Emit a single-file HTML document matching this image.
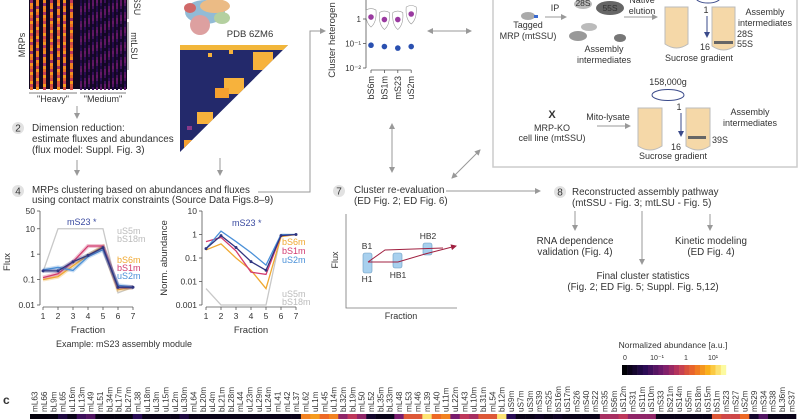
<!DOCTYPE html>
<html><head><meta charset="utf-8"><style>
html,body{margin:0;padding:0;background:#fff}
svg{display:block;font-family:"Liberation Sans",sans-serif}
text{fill:#333}
</style></head><body>
<svg id="fig" width="800" height="419" viewBox="0 0 800 419" xmlns="http://www.w3.org/2000/svg">
<defs>
<marker id="ah" markerWidth="6" markerHeight="6" refX="5" refY="3" orient="auto"><path d="M0,0 L6,3 L0,6 z" fill="#999"/></marker>
<marker id="ahs" markerWidth="6" markerHeight="6" refX="1" refY="3" orient="auto"><path d="M6,0 L0,3 L6,6 z" fill="#999"/></marker>
<marker id="ahn" markerWidth="6" markerHeight="6" refX="5" refY="3" orient="auto"><path d="M0,0 L6,3 L0,6 z" fill="#3a4a8a"/></marker>
<marker id="ahr" markerWidth="6" markerHeight="6" refX="5" refY="3" orient="auto"><path d="M0,0 L6,3 L0,6 z" fill="#a02040"/></marker>
<clipPath id="tri"><polygon points="180,45 288,45 180,152"/></clipPath>
</defs>

<!-- top-left heatmap -->
<g id="mrpHeat"></g>
<text transform="translate(25,45) rotate(-90)" font-size="9" text-anchor="middle">MRPs</text>
<line x1="128" y1="0" x2="128" y2="19" stroke="#555" stroke-width="0.8"/>
<line x1="128" y1="22" x2="128" y2="70" stroke="#555" stroke-width="0.8"/>
<text transform="translate(134,6) rotate(90)" font-size="9" text-anchor="middle">SSU</text>
<text transform="translate(131,46) rotate(90)" font-size="9" text-anchor="middle">mtLSU</text>
<line x1="29" y1="93" x2="77" y2="93" stroke="#555" stroke-width="0.8"/>
<line x1="80" y1="93" x2="126" y2="93" stroke="#555" stroke-width="0.8"/>
<text x="53" y="102" font-size="9" text-anchor="middle">"Heavy"</text>
<text x="103" y="102" font-size="9" text-anchor="middle">"Medium"</text>
<line x1="77" y1="106" x2="77" y2="118" stroke="#999" marker-end="url(#ah)"/>

<!-- step 2 -->
<circle cx="18" cy="128" r="6" fill="#e2e2e2"/>
<text x="18" y="131.5" font-size="10" text-anchor="middle">2</text>
<text font-size="9.9"><tspan x="32" y="131">Dimension reduction:</tspan><tspan x="32" y="142">estimate fluxes and abundances</tspan><tspan x="32" y="153">(flux model: Suppl. Fig. 3)</tspan></text>
<line x1="77" y1="160" x2="77" y2="175" stroke="#999" marker-end="url(#ah)"/>

<!-- structure + contact matrix -->
<g opacity="0.85">
<ellipse cx="205" cy="12" rx="20" ry="12" fill="#7fb0d0"/>
<ellipse cx="215" cy="6" rx="15" ry="7" fill="#e8b070"/>
<ellipse cx="200" cy="25" rx="10" ry="10" fill="#d89090"/>
<ellipse cx="222" cy="18" rx="8" ry="6" fill="#a8c890"/>
<ellipse cx="190" cy="8" rx="6" ry="5" fill="#c85050"/>
</g>
<text x="250" y="37" font-size="9.5" text-anchor="middle">PDB 6ZM6</text>
<g id="contact" clip-path="url(#tri)">
<rect x="180" y="45" width="108" height="107" fill="#23296b"/>
<rect x="180" y="45" width="108" height="5" fill="#f2b63a"/>
<rect x="253" y="52" width="20" height="18" fill="#f7b23c"/>
<rect x="224" y="78" width="20" height="16" fill="#f7b23c"/>
<rect x="215" y="88" width="14" height="10" fill="#f5a030"/>
<rect x="197" y="112" width="16" height="12" fill="#f7b23c"/>
<rect x="184" y="140" width="8" height="8" fill="#f5a030"/>
<rect x="187" y="126" width="5" height="4" fill="#8a3a8a"/>
<rect x="229" y="50" width="4" height="4" fill="#f7b23c"/>
<rect x="208" y="53" width="4" height="4" fill="#f7b23c"/>
</g>
<line x1="220" y1="158" x2="220" y2="175" stroke="#999" marker-end="url(#ah)"/>

<!-- step 4 -->
<circle cx="18" cy="191" r="6" fill="#e2e2e2"/>
<text x="18" y="194.5" font-size="10" text-anchor="middle">4</text>
<text font-size="9.8"><tspan x="32" y="193">MRPs clustering based on abundances and fluxes</tspan><tspan x="32" y="203">using contact matrix constraints (Source Data Figs.8–9)</tspan></text>
<polyline points="258,192 310,192 310,31 325,31" fill="none" stroke="#999" marker-end="url(#ah)"/>

<!-- flux chart -->
<g id="fluxChart"></g>
<g id="abChart"></g>
<text transform="translate(10,262) rotate(-90)" font-size="9.5" text-anchor="middle">Flux</text>
<text transform="translate(167,258) rotate(-90)" font-size="9.5" text-anchor="middle">Norm. abundance</text>
<text x="88" y="333" font-size="9.5" text-anchor="middle">Fraction</text>
<text x="251" y="333" font-size="9.5" text-anchor="middle">Fraction</text>
<text x="124" y="347" font-size="9" text-anchor="middle">Example: mS23 assembly module</text>

<!-- cluster heterogeneity chart -->
<g id="hetChart"></g>
<text transform="translate(335,40) rotate(-90)" font-size="9.5" text-anchor="middle">Cluster heterogen</text>
<line x1="428" y1="31" x2="471" y2="31" stroke="#999" marker-start="url(#ahs)" marker-end="url(#ah)"/>
<line x1="392" y1="124" x2="392" y2="172" stroke="#999" marker-start="url(#ahs)" marker-end="url(#ah)"/>
<line x1="452" y1="178" x2="480" y2="150" stroke="#999" marker-start="url(#ahs)" marker-end="url(#ah)"/>

<!-- experiment box -->
<rect x="493" y="-3" width="304" height="170" fill="none" stroke="#ccc" stroke-width="1.5"/>
<g font-size="9">
<ellipse cx="528" cy="16" rx="7" ry="4" fill="#aaa"/><rect x="534" y="15" width="4" height="3" fill="#3a6ad0"/>
<text x="528" y="28" text-anchor="middle">Tagged</text><text x="528" y="39" text-anchor="middle">MRP (mtSSU)</text>
<text x="555" y="11" text-anchor="middle">IP</text>
<line x1="545" y1="17" x2="566" y2="17" stroke="#999" marker-end="url(#ah)"/>
<ellipse cx="583" cy="4" rx="9" ry="5" fill="#bbb"/><text x="583" y="6" text-anchor="middle" font-size="8.5">28S</text>
<ellipse cx="610" cy="8" rx="14" ry="7" fill="#666"/><text x="610" y="11" text-anchor="middle" font-size="8.5">55S</text>
<ellipse cx="589" cy="27" rx="8" ry="4" fill="#bbb"/><ellipse cx="578" cy="36" rx="9" ry="5" fill="#999"/><ellipse cx="620" cy="38" rx="6" ry="4" fill="#777"/>
<text x="604" y="52" text-anchor="middle">Assembly</text><text x="604" y="63" text-anchor="middle">intermediates</text>
<text x="642" y="3" text-anchor="middle">Native</text><text x="642" y="14" text-anchor="middle">elution</text>
<line x1="624" y1="17" x2="657" y2="17" stroke="#999" marker-end="url(#ah)"/>
<path d="M665,7 L688,7 L688,44 Q676.5,52 665,44 Z" fill="#f5d8a8" stroke="#bbb"/>
<ellipse cx="708" cy="-2" rx="12" ry="5" fill="none" stroke="#3a4a8a"/>
<text x="706" y="13" text-anchor="middle">1</text>
<line x1="707" y1="16" x2="707" y2="37" stroke="#3a4a8a" marker-end="url(#ahn)"/>
<text x="705" y="50" text-anchor="middle">16</text>
<path d="M712,7 L735,7 L735,46 Q723.5,54 712,46 Z" fill="#f5d8a8" stroke="#bbb"/>
<rect x="714" y="41" width="19" height="3" fill="#666"/>
<text x="765" y="15" text-anchor="middle">Assembly</text><text x="765" y="26" text-anchor="middle">intermediates</text>
<text x="737" y="37">28S</text><text x="737" y="47">55S</text>
<text x="699" y="61" text-anchor="middle">Sucrose gradient</text>
</g>
<g font-size="9">
<text x="668" y="85" text-anchor="middle">158,000g</text>
<ellipse cx="668" cy="95" rx="16" ry="5.5" fill="none" stroke="#3a4a8a"/>
<text x="552" y="118" text-anchor="middle" font-size="11" font-weight="bold">X</text>
<text x="552" y="131" text-anchor="middle">MRP-KO</text><text x="552" y="141" text-anchor="middle">cell line (mtSSU)</text>
<text x="608" y="120" text-anchor="middle">Mito-lysate</text>
<line x1="597" y1="126" x2="630" y2="126" stroke="#999" marker-end="url(#ah)"/>
<path d="M638,108 L662,108 L662,146 Q650,154 638,146 Z" fill="#f5d8a8" stroke="#bbb"/>
<text x="679" y="110" text-anchor="middle">1</text>
<line x1="681" y1="113" x2="681" y2="136" stroke="#3a4a8a" marker-end="url(#ahn)"/>
<text x="676" y="150" text-anchor="middle">16</text>
<path d="M686,108 L710,108 L710,146 Q698,154 686,146 Z" fill="#f5d8a8" stroke="#bbb"/>
<rect x="688" y="136" width="18" height="3" fill="#666"/>
<text x="750" y="115" text-anchor="middle">Assembly</text><text x="750" y="126" text-anchor="middle">intermediates</text>
<text x="712" y="143">39S</text>
<text x="673" y="159" text-anchor="middle">Sucrose gradient</text>
</g>

<!-- step 7 -->
<circle cx="339" cy="191" r="6" fill="#e2e2e2"/>
<text x="339" y="194.5" font-size="10" text-anchor="middle">7</text>
<text font-size="9.8"><tspan x="354" y="193">Cluster re-evaluation</tspan><tspan x="354" y="204">(ED Fig. 2; ED Fig. 6)</tspan></text>
<line x1="446" y1="191" x2="540" y2="191" stroke="#999" marker-end="url(#ah)"/>
<g font-size="8.5">
<polyline points="346,214 346,308 457,308" fill="none" stroke="#777" stroke-width="0.8"/>
<text transform="translate(338,260) rotate(-90)" text-anchor="middle" font-size="9">Flux</text>
<text x="401" y="319" text-anchor="middle" font-size="9">Fraction</text>
<rect x="363" y="253" width="9" height="20" rx="2" fill="#a8d0ee" stroke="#6a9ac0" stroke-width="0.6"/>
<rect x="393" y="253" width="9" height="15" rx="2" fill="#a8d0ee" stroke="#6a9ac0" stroke-width="0.6"/>
<rect x="423" y="243" width="9" height="12" rx="2" fill="#a8d0ee" stroke="#6a9ac0" stroke-width="0.6"/>
<polyline points="368,262 385,250 443,248" fill="none" stroke="#a02040"/>
<polyline points="368,262 398,262 425,254 456,246" fill="none" stroke="#a02040" marker-end="url(#ahr)"/>
<text x="367" y="249" text-anchor="middle">B1</text><text x="367" y="282" text-anchor="middle">H1</text>
<text x="398" y="278" text-anchor="middle">HB1</text><text x="428" y="239" text-anchor="middle">HB2</text>
</g>

<!-- step 8 -->
<circle cx="560" cy="192" r="6" fill="#e2e2e2"/>
<text x="560" y="195.5" font-size="10" text-anchor="middle">8</text>
<text font-size="9.8"><tspan x="572" y="195">Reconstructed assembly pathway</tspan><tspan x="572" y="206">(mtSSU - Fig. 3; mtLSU - Fig. 5)</tspan></text>
<line x1="575" y1="211" x2="575" y2="230" stroke="#999" marker-end="url(#ah)"/>
<line x1="642" y1="211" x2="642" y2="264" stroke="#999" marker-end="url(#ah)"/>
<line x1="710" y1="214" x2="710" y2="230" stroke="#999" marker-end="url(#ah)"/>
<text font-size="9.8" text-anchor="middle"><tspan x="575" y="244">RNA dependence</tspan><tspan x="575" y="255">validation (Fig. 4)</tspan></text>
<text font-size="9.8" text-anchor="middle"><tspan x="711" y="244">Kinetic modeling</tspan><tspan x="711" y="255">(ED Fig. 4)</tspan></text>
<text font-size="9.8" text-anchor="middle"><tspan x="643" y="279">Final cluster statistics</tspan><tspan x="643" y="290">(Fig. 2; ED Fig. 5; Suppl. Fig. 5,12)</tspan></text>

<!-- panel c -->
<text x="3" y="404" font-size="12" font-weight="bold">c</text>
<text x="673" y="348" font-size="8.5" text-anchor="middle">Normalized abundance [a.u.]</text>
<g id="cbar"></g>
<g id="stripLabels"></g>
<g id="strip"></g>
</svg>
<script>
// ---------- data ----------
const fractions = [1,2,3,4,5,6,7];
const fluxMS23 = [0.22,0.22,0.5,0.9,1.8,0.05,0.05];
const fluxBS6m = [0.1,0.13,0.35,0.9,2.0,0.04,0.05];
const fluxBS1m = [0.12,0.17,0.5,2.1,2.1,0.05,0.05];
const fluxUS2m = [0.24,0.3,0.23,0.8,1.5,0.06,0.05];
const fluxUS5m = [0.2,10,10,10,10,0.03,0.05];
const fluxTicks = [50,10,1,0.1,0.01];
const fluxTickLabels = ["50","10","1","0.1","0.01"];
const abMS23 = [0.25,0.9,0.28,0.07,0.03,0.9,1.0];
const abBS6m = [0.22,0.4,0.1,0.03,0.005,0.8,1.0];
const abBS1m = [0.5,0.75,0.2,0.025,0.02,0.9,1.0];
const abUS2m = [0.25,1.4,0.5,0.17,0.05,1.0,1.0];
const abUS5m = [0.005,0.001,0.001,0.001,0.001,1.0,1.0];
const abTicks = [10,1,0.1,0.01,0.001];
const abTickLabels = ["10","1","0.1","0.01","0.001"];
const hetProteins = ["bS6m","bS1m","mS23","uS2m"];
const hetHigh = [1.2,0.95,0.95,1.6];
const hetLow = [0.085,0.075,0.065,0.075];
const stripNames = ["mL63","mL66","bL9m","mL65","uL16m","uL13m","mL49","mL51","bL34m","bL17m","bL27m","mL38","uL18m","uL3m","uL15m","uL2m","uL30m","mL64","bL20m","uL4m","bL21m","bL28m","mL44","uL23m","uL29m","uL24m","mL41","mL42","mL37","mL62","uL1m","mL45","uL14m","bL32m","bL19m","mL50","mL52","bL35m","bL33m","mL48","mL53","mL46","mL39","mL40","uL11m","uL22m","mL43","uL10m","bL31m","mL54","bL12m","uS9m","uS7m","uS3m","mS39","mS25","bS16m","uS17m","mS26","mS40","mS22","mS35","bS6m","uS12m","mS31","uS11m","uS10m","mS33","bS21m","uS14m","uS5m","bS18m","uS15m","bS1m","mS23","mS27","uS2m","mS29","mS34","mS38","bL36m","mS37"];
const stripValues = [0.02,0.02,0.03,0.15,0.05,0.25,0.3,0.04,0.03,0.03,0.03,0.2,0.05,0.05,0.05,0.05,0.15,0.05,0.05,0.05,0.05,0.05,0.05,0.05,0.05,0.05,0.05,0.05,0.05,0.75,0.8,0.7,0.75,0.45,0.55,0.45,0.1,0.05,0.05,0.4,0.65,0.65,0.95,0.7,0.75,0.4,0.55,0.5,0.65,0.65,0.95,0.2,0.05,0.05,0.08,0.05,0.08,0.05,0.05,0.05,0.05,0.5,0.5,0.55,0.45,0.45,0.45,0.05,0.05,0.05,0.05,0.05,0.05,0.65,0.6,0.6,0.7,0.1,0.3,0.05,0.05,0.05];

// ---------- helpers ----------
const NS="http://www.w3.org/2000/svg";
function mk(tag,attrs,parent){const e=document.createElementNS(NS,tag);for(const k in attrs)e.setAttribute(k,attrs[k]);parent.appendChild(e);return e;}
const stops=[[0,0,0,4],[0.2,40,11,84],[0.4,120,28,109],[0.55,190,55,90],[0.7,237,105,37],[0.85,251,180,26],[1,252,250,160]];
function cmap(v){v=Math.max(0,Math.min(1,v));for(let i=1;i<stops.length;i++){if(v<=stops[i][0]){const a=stops[i-1],b=stops[i],t=(v-a[0])/(b[0]-a[0]);return `rgb(${[1,2,3].map(j=>Math.round(a[j]+(b[j]-a[j])*t)).join(',')})`;}}return "rgb(252,250,160)";}

// ---------- log line chart ----------
function logChart(g,cfg){
  const X=f=>cfg.x0+(f-1)*cfg.dx;
  const Y=v=>cfg.yTop+(Math.log10(cfg.vmax)-Math.log10(v))/(Math.log10(cfg.vmax)-Math.log10(cfg.vmin))*(cfg.yBot-cfg.yTop);
  const ax=mk('line',{x1:cfg.axX,y1:Y(cfg.vmax),x2:cfg.axX,y2:Y(cfg.vmin),stroke:'#555','stroke-width':0.8},g);
  
  
  cfg.ticks.forEach((t,i)=>{
    mk('line',{x1:cfg.axX-3,y1:Y(t),x2:cfg.axX,y2:Y(t),stroke:'#555','stroke-width':0.8},g);
    const tx=mk('text',{x:cfg.axX-5,y:Y(t)+3,'font-size':8.5,'text-anchor':'end'},g);tx.textContent=cfg.tickLabels[i];
    
    
  });
  fractions.forEach(f=>{
    const tx=mk('text',{x:X(f),y:cfg.yBot+14,'font-size':8.5,'text-anchor':'middle'},g);tx.textContent=f;
    
    
    mk('line',{x1:X(f),y1:cfg.yBot+2,x2:X(f),y2:cfg.yBot+5,stroke:'#555','stroke-width':0.8},g);
  });
  mk('line',{x1:X(1),y1:cfg.yBot+2,x2:X(7),y2:cfg.yBot+2,stroke:'#555','stroke-width':0.8},g);
  cfg.series.forEach(s=>{
    const pts=s.v.map((v,i)=>X(fractions[i])+','+Y(v)).join(' ');
    if(s.band){const band=mk('polyline',{points:pts,fill:'none',stroke:s.c,'stroke-width':4,opacity:0.3},g);
      
      }
    const l=mk('polyline',{points:pts,fill:'none',stroke:s.c,'stroke-width':1.3},g);
    
    
    if(s.dots) s.v.forEach((v,i)=>{const d=mk('circle',{cx:X(fractions[i]),cy:Y(v),r:1.5,fill:s.c},g);
      
      });
  });
  cfg.labels.forEach(L=>{const t=mk('text',{x:L.x,y:L.y,'font-size':9,fill:L.c},g);t.textContent=L.t;t.style.fill=L.c;
    
    });
}
const cNavy='#2f3580',cOr='#f0a830',cPk='#d23a6e',cBl='#4a90d8',cGr='#c8c8c8';
logChart(document.getElementById('fluxChart'),{x0:43,dx:15,axX:40,yTop:211,yBot:305,vmax:50,vmin:0.01,ticks:fluxTicks,tickLabels:fluxTickLabels,
 series:[{n:'us5m',v:fluxUS5m,c:cGr},{n:'bs6m',v:fluxBS6m,c:cOr,band:1},{n:'bs1m',v:fluxBS1m,c:cPk,band:1},{n:'us2m',v:fluxUS2m,c:cBl,band:1},{n:'ms23',v:fluxMS23,c:cNavy,band:1,dots:1}],
 labels:[{t:'mS23 *',x:67,y:225,c:'#3a4aa0'},{t:'uS5m',x:117,y:234,c:'#bbb'},{t:'bS18m',x:117,y:242,c:'#bbb'},{t:'bS6m',x:117,y:263,c:cOr},{t:'bS1m',x:117,y:271,c:cPk},{t:'uS2m',x:117,y:279,c:cBl}]});
logChart(document.getElementById('abChart'),{x0:206,dx:15,axX:202,yTop:211,yBot:305,vmax:10,vmin:0.001,ticks:abTicks,tickLabels:abTickLabels,
 series:[{n:'us5m',v:abUS5m,c:cGr},{n:'bs6m',v:abBS6m,c:cOr},{n:'bs1m',v:abBS1m,c:cPk},{n:'us2m',v:abUS2m,c:cBl},{n:'ms23',v:abMS23,c:cNavy,dots:1}],
 labels:[{t:'mS23 *',x:232,y:226,c:'#3a4aa0'},{t:'bS6m',x:282,y:245,c:cOr},{t:'bS1m',x:282,y:254,c:cPk},{t:'uS2m',x:282,y:263,c:cBl},{t:'uS5m',x:282,y:297,c:'#bbb'},{t:'bS18m',x:282,y:305,c:'#bbb'}]});

// heterogeneity
(function(){
  const g=document.getElementById('hetChart');
  const Y=v=>19+(0-Math.log10(v))*24.5;
  const X=i=>371+i*13.4;
  mk('line',{x1:366,y1:0,x2:366,y2:Y(0.01),stroke:'#555','stroke-width':0.8},g);
  [[1,'1'],[0.1,'10⁻¹'],[0.01,'10⁻²']].forEach(([v,l])=>{
    mk('line',{x1:363,y1:Y(v),x2:366,y2:Y(v),stroke:'#555','stroke-width':0.8},g);
    const t=mk('text',{x:361,y:Y(v)+3,'font-size':8,'text-anchor':'end'},g);t.textContent=l;
    
    
  });
  mk('line',{x1:X(0),y1:Y(0.01)+2,x2:X(3),y2:Y(0.01)+2,stroke:'#555','stroke-width':0.8},g);
  hetProteins.forEach((p,i)=>{
    mk('path',{d:`M${X(i)-5},${Y(hetHigh[i])-7} Q${X(i)},${Y(hetHigh[i])-10} ${X(i)+5},${Y(hetHigh[i])-7} Q${X(i)+6},${Y(hetHigh[i])+5} ${X(i)},${Y(hetHigh[i])+10} Q${X(i)-6},${Y(hetHigh[i])+5} ${X(i)-5},${Y(hetHigh[i])-7}`,fill:'none',stroke:'#999','stroke-width':0.6},g);
    const a=mk('circle',{cx:X(i),cy:Y(hetHigh[i]),r:2.8,fill:'#9a3aa0'},g);
    
    
    const b=mk('circle',{cx:X(i),cy:Y(hetLow[i]),r:2.8,fill:'#2a50b0'},g);
    
    
    mk('line',{x1:X(i),y1:Y(0.01)+2,x2:X(i),y2:Y(0.01)+5,stroke:'#555','stroke-width':0.8},g);
    const t=mk('text',{transform:`translate(${X(i)+3},${Y(0.01)+8}) rotate(-90)`,'font-size':9,'text-anchor':'end'},g);t.textContent=p;
    
    
  });
})();

// decorative MRP heatmap
(function(){
  const g=document.getElementById('mrpHeat');
  mk('rect',{x:29,y:0,width:98,height:89,fill:'#120820'},g);
  const cols=[30,36,43,50,57,63,70];
  cols.forEach((c,k)=>{for(let y=0;y<89;y+=3){const v=0.45+0.35*Math.abs(Math.sin(y*0.37+k));mk('rect',{x:c,y:y,width:3,height:3,fill:cmap(v)},g);}});
  for(let c=80;c<127;c+=4){for(let y=0;y<89;y+=3){const v=0.1+0.25*Math.abs(Math.sin(c*0.9+y*0.21));mk('rect',{x:c,y:y,width:2,height:3,fill:cmap(v)},g);}}
})();

// colorbar
(function(){
  const g=document.getElementById('cbar');
  for(let i=0;i<20;i++) mk('rect',{x:622+i*5.2,y:365,width:5.4,height:10,fill:cmap(i/19)},g);
  [[625,'0'],[657,'10⁻¹'],[686,'1'],[713,'10¹']].forEach(([x,l])=>{const t=mk('text',{x:x,y:360,'font-size':7,'text-anchor':'middle'},g);t.textContent=l;
    
    });
})();

// abundance strip
(function(){
  const g=document.getElementById('strip'), gl=document.getElementById('stripLabels');
  const x0=30, w=(796-30)/stripNames.length;
  stripNames.forEach((n,i)=>{
    const r=mk('rect',{x:x0+i*w,y:414,width:w+0.3,height:5,fill:cmap(stripValues[i])},g);
    
    
    const t=mk('text',{transform:`translate(${x0+i*w+w/2+3},412) rotate(-90)`,'font-size':8.2},gl);t.textContent=n;
    
    
  });
})();
</script>
</body></html>
